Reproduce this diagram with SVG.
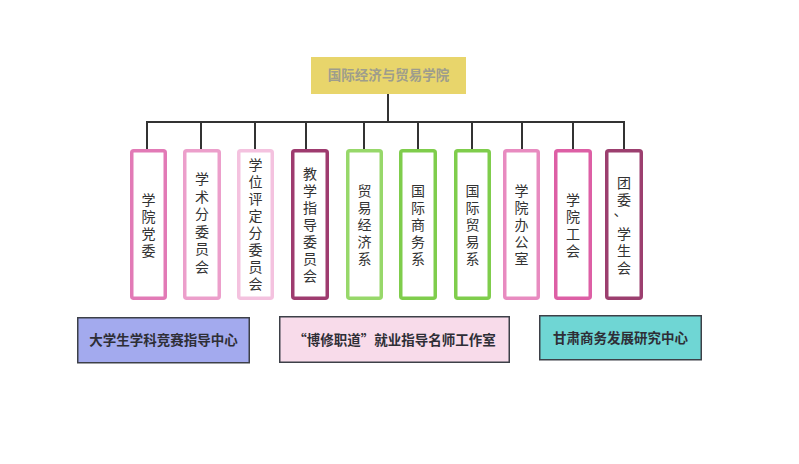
<svg xmlns="http://www.w3.org/2000/svg" width="799" height="464" viewBox="0 0 799 464">
<style>
  .col rect { fill: #ffffff; stroke-width: 3.5; }
  .col text { font-family: "Noto Sans CJK SC", "Noto Sans", sans-serif; font-size: 14px; fill: #333333; text-anchor: middle; writing-mode: vertical-rl; letter-spacing: 3px; }
  .conn { stroke: #333333; stroke-width: 2; fill: none; stroke-linecap: square; }
  .bot rect { stroke: #3d4048; stroke-width: 1.5; }
  .bot text { font-family: "Noto Sans CJK SC", "Noto Sans", sans-serif; font-size: 13.5px; font-weight: bold; fill: #2e2e36; text-anchor: middle; }
</style>
<rect width="799" height="464" fill="#ffffff"/>

<g id="connectors" class="conn">
  <path d="M388 94 V122"/>
  <path d="M147 122 H624"/>
  <path d="M147 122 V149 M201 122 V149 M255 122 V149 M306 122 V149 M364 122 V149 M418 122 V149 M472 122 V149 M522 122 V149 M573 122 V149 M624 122 V149"/>
</g>

<g id="root">
  <rect x="311" y="57" width="155" height="37" fill="#e8d56b"/>
  <text x="388.5" y="80" font-family="Noto Sans CJK SC, Noto Sans, sans-serif" font-size="13.5" font-weight="bold" fill="#9e9d8c" text-anchor="middle">国际经济与贸易学院</text>
</g>

<g id="n1" class="col">
  <rect x="131.75" y="150.75" width="33.5" height="147.5" rx="2" stroke="#e27ab6"/>
  <text x="148.5" y="226.5">学院党委</text>
</g>
<g id="n2" class="col">
  <rect x="184.75" y="150.75" width="34.5" height="147.5" rx="2" stroke="#ec9fcb"/>
  <text x="202" y="224.5" style="letter-spacing:3.5px">学术分委员会</text>
</g>
<g id="n3" class="col">
  <rect x="238.75" y="150.75" width="33.5" height="147.5" rx="2" stroke="#f4c2df"/>
  <text x="255.5" y="225.5">学位评定分委员会</text>
</g>
<g id="n4" class="col">
  <rect x="292.75" y="150.75" width="34.5" height="147.5" rx="2" stroke="#9e3b6f"/>
  <text x="310" y="226.5">教学指导委员会</text>
</g>
<g id="n5" class="col">
  <rect x="347.75" y="150.75" width="33.5" height="147.5" rx="2" stroke="#97d86a"/>
  <text x="364.5" y="226.5">贸易经济系</text>
</g>
<g id="n6" class="col">
  <rect x="400.75" y="150.75" width="34.5" height="147.5" rx="2" stroke="#7fcd4c"/>
  <text x="418" y="226.5">国际商务系</text>
</g>
<g id="n7" class="col">
  <rect x="455.75" y="150.75" width="33.5" height="147.5" rx="2" stroke="#7fcd4c"/>
  <text x="472.5" y="226.5">国际贸易系</text>
</g>
<g id="n8" class="col">
  <rect x="504.75" y="150.75" width="33.5" height="147.5" rx="2" stroke="#e88bc0"/>
  <text x="521.5" y="226.5">学院办公室</text>
</g>
<g id="n9" class="col">
  <rect x="555.75" y="150.75" width="34.5" height="147.5" rx="2" stroke="#dd5fa5"/>
  <text x="573" y="226.5">学院工会</text>
</g>
<g id="n10" class="col">
  <rect x="606.75" y="150.75" width="34.5" height="147.5" rx="2" stroke="#9c3f6f"/>
  <text x="624" y="226.5">团委<tspan dx="-12" dy="3">、</tspan><tspan dx="12" dy="-3">学生会</tspan></text>
</g>

<g id="b1" class="bot">
  <rect x="77.75" y="317.75" width="171.5" height="45" fill="#a3aaee"/>
  <text x="163.5" y="345">大学生学科竞赛指导中心</text>
</g>
<g id="b2" class="bot">
  <rect x="279.75" y="316.75" width="229.5" height="45.5" fill="#f8dbea"/>
  <text x="394.5" y="345">“博修职道”就业指导名师工作室</text>
</g>
<g id="b3" class="bot">
  <rect x="539.75" y="315.75" width="161.5" height="44" fill="#6fd6d4"/>
  <text x="620.5" y="342.5">甘肃商务发展研究中心</text>
</g>
</svg>
